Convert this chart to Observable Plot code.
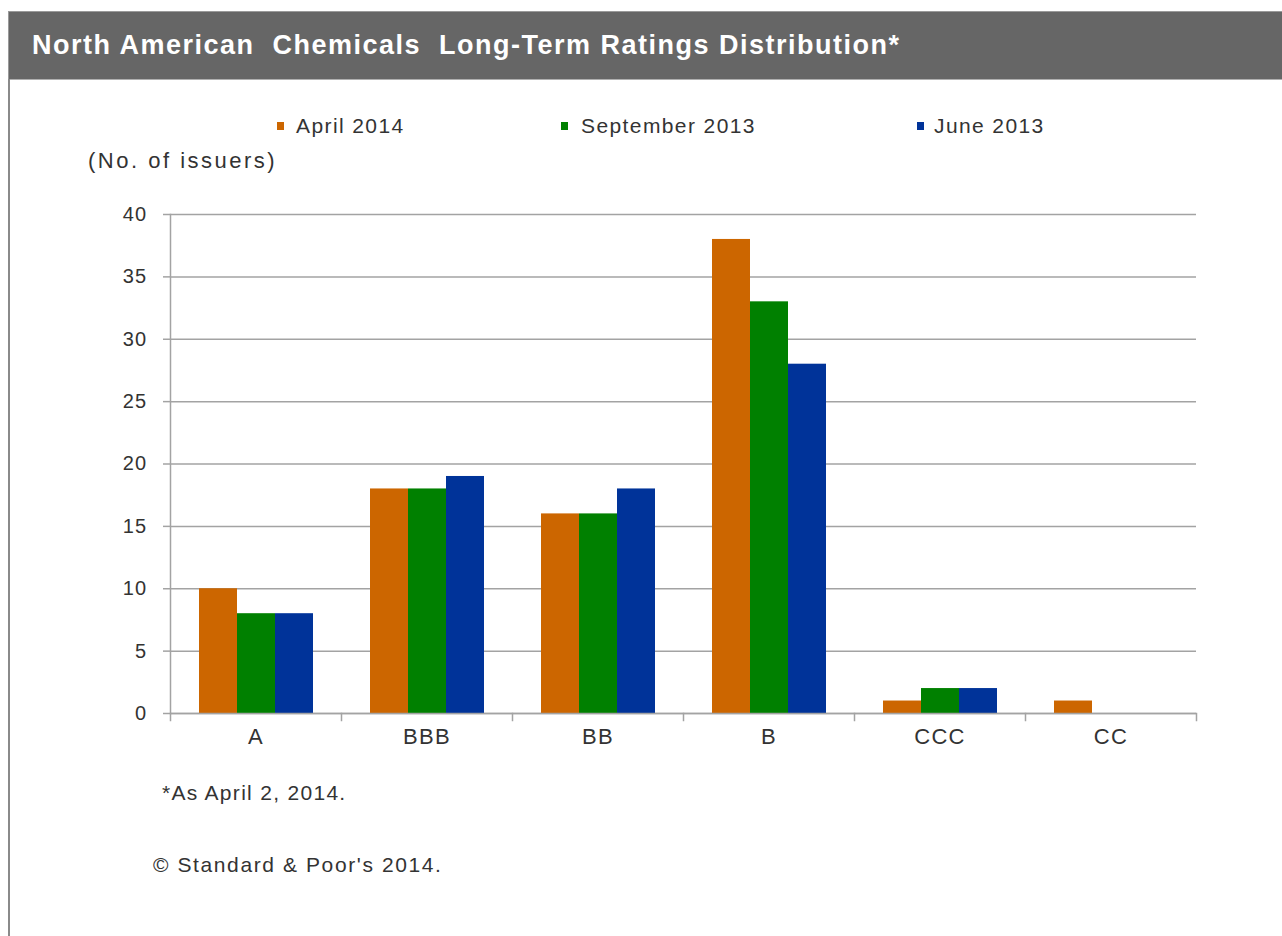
<!DOCTYPE html>
<html>
<head>
<meta charset="utf-8">
<script src="https://cdn.jsdelivr.net/npm/d3@7"></script>
<script src="https://cdn.jsdelivr.net/npm/@observablehq/plot@0.6"></script>
<style>
  html, body { margin: 0; padding: 0; background: #fff; }
  #page { position: relative; width: 1282px; height: 936px; overflow: hidden; font-family: "Liberation Sans", Arial, sans-serif; color: #333; }
  #titlebar { position: absolute; left: 8px; top: 11px; width: 1274px; height: 67px; background: #666666; border-top: 1px solid #9a9a9a; border-bottom: 1px solid #b0b0b0; border-left: 1px solid #9a9a9a; }
  #title { position: absolute; left: 32px; top: 32px; font-size: 27px; line-height: 27px; font-weight: bold; color: #fff; letter-spacing: 1.5px; white-space: pre; }
  #leftborder { position: absolute; left: 8px; top: 79px; width: 2px; height: 857px; background: #8a8a8a; }
  .txt { position: absolute; white-space: pre; line-height: 1; }
  #ylabel { left: 88px; top: 150px; font-size: 22px; letter-spacing: 2.5px; }
  #legend .sw { position: absolute; width: 7px; height: 8px; top: 122px; }
  #legend .lt { position: absolute; top: 115px; font-size: 21px; letter-spacing: 1.4px; line-height: 1; white-space: pre; }
  #note1 { left: 162px; top: 782px; font-size: 21px; letter-spacing: 1.3px; }
  #note2 { left: 153px; top: 854px; font-size: 21px; letter-spacing: 1.6px; }
  #chart { position: absolute; left: 0; top: 180px; }
</style>
</head>
<body>
<div id="page">
  <div id="titlebar"></div>
  <div id="title"></div>
  <div id="leftborder"></div>
  <div id="legend"></div>
  <div id="ylabel" class="txt"></div>
  <div id="chart"></div>
  <div id="note1" class="txt"></div>
  <div id="note2" class="txt"></div>
</div>
<script>
// ---- data ----
const titleText = "North American  Chemicals  Long-Term Ratings Distribution*";
const yLabelText = "(No. of issuers)";
const note1Text = "*As April 2, 2014.";
const note2Text = "\u00A9 Standard & Poor's 2014.";
const categories = ["A", "BBB", "BB", "B", "CCC", "CC"];
const seriesNames = ["April 2014", "September 2013", "June 2013"];
const april2014 = [10, 18, 16, 38, 1, 1];
const september2013 = [8, 18, 16, 33, 2, 0];
const june2013 = [8, 19, 18, 28, 2, 0];
const yTicks = [0, 5, 10, 15, 20, 25, 30, 35, 40];
const seriesColors = ["#CC6600", "#008000", "#003399"];

// ---- build table ----
const seriesValues = [april2014, september2013, june2013];
const rows = [];
categories.forEach((c, i) => {
  seriesNames.forEach((s, j) => {
    rows.push({rating: c, series: s, value: seriesValues[j][i]});
  });
});

// ---- texts ----
document.getElementById("title").textContent = titleText;
document.getElementById("ylabel").textContent = yLabelText;
document.getElementById("note1").textContent = note1Text;
document.getElementById("note2").textContent = note2Text;

// legend
const legend = document.getElementById("legend");
const legendSwatchX = [277, 561, 917];
const legendTextX = [296, 581, 934];
seriesNames.forEach((s, j) => {
  const sw = document.createElement("div");
  sw.className = "sw";
  sw.style.left = legendSwatchX[j] + "px";
  sw.style.background = seriesColors[j];
  legend.appendChild(sw);
  const t = document.createElement("div");
  t.className = "lt";
  t.style.left = legendTextX[j] + "px";
  t.textContent = s;
  legend.appendChild(t);
});

// ---- chart ----
const W = 1282, H = 600, mT = 34, mB = 67, mL = 169, mR = 86;
const innerH = H - mT - mB;
const gridColor = "#a3a3a3";

const chart = Plot.plot({
  width: W,
  height: H,
  marginTop: mT,
  marginBottom: mB,
  marginLeft: mL,
  marginRight: mR,
  style: {fontFamily: "'Liberation Sans', Arial, sans-serif", fontSize: "20px", color: "#333", letterSpacing: "1.3px", background: "transparent", overflow: "visible"},
  fx: {domain: categories, padding: 0, label: null},
  x: {domain: seriesNames, paddingInner: 0, paddingOuter: 0.75, axis: null},
  y: {domain: [0, 40], axis: null},
  color: {domain: seriesNames, range: seriesColors},
  marks: [
    Plot.gridY({ticks: yTicks, stroke: gridColor, strokeOpacity: 1, strokeWidth: 1.5}),
    Plot.axisY({ticks: yTicks, tickSize: 7, tickPadding: 16, stroke: gridColor, strokeOpacity: 1, strokeWidth: 1.5, label: null, fill: "#333", fontSize: 20}),
    Plot.barY(rows, {fx: "rating", x: "series", y: "value", fill: "series"}),
    Plot.ruleY([0], {stroke: gridColor, strokeWidth: 1.5}),
    Plot.frame({anchor: "left", facetAnchor: "left", stroke: gridColor, strokeWidth: 1.5}),
    Plot.frame({anchor: "left", insetTop: innerH, insetBottom: -7, stroke: gridColor, strokeWidth: 1.5}),
    Plot.frame({anchor: "right", facetAnchor: "right", insetTop: innerH, insetBottom: -7, stroke: gridColor, strokeWidth: 1.5}),
    Plot.axisFx({anchor: "bottom", tickSize: 0, tickPadding: 15, label: null, fontSize: 22, fill: "#333"})
  ]
});
document.getElementById("chart").appendChild(chart);
</script>
</body>
</html>
